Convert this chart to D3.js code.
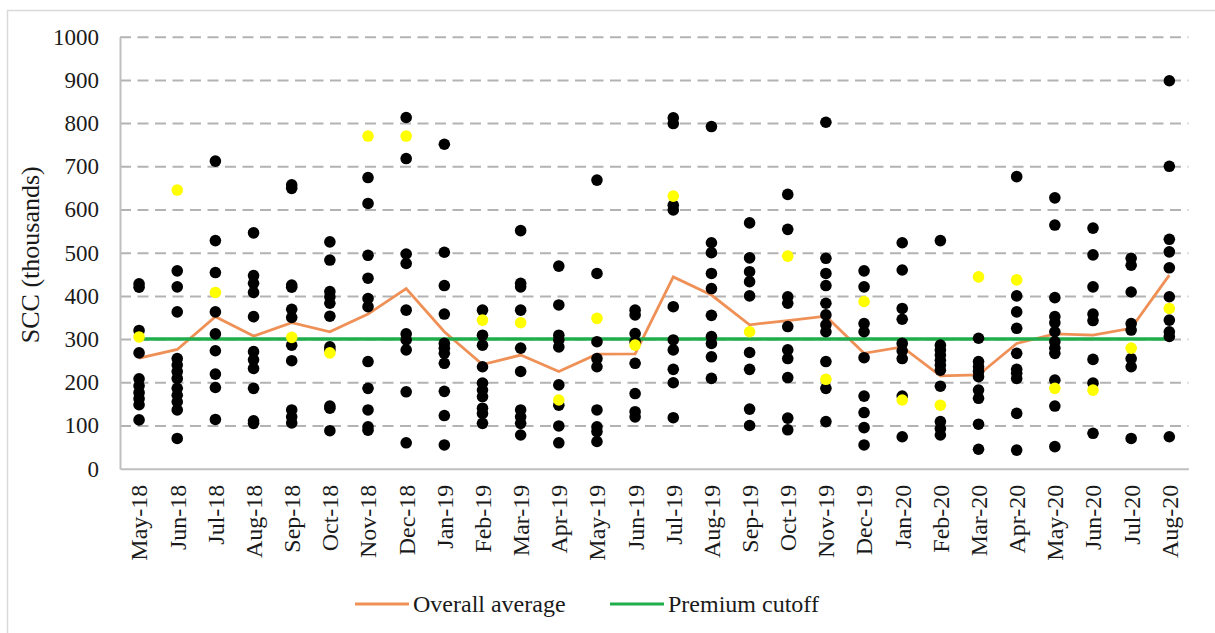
<!DOCTYPE html>
<html>
<head>
<meta charset="utf-8">
<script src="https://cdn.jsdelivr.net/npm/d3@7"></script>
<style>
  body { margin: 0; background: #fff; }
  svg { display: block; font-family: "Liberation Serif", "Times New Roman", serif; }
</style>
</head>
<body>
<div id="chart"></div>
<script>
// Months on the x axis
const months = ["May-18", "Jun-18", "Jul-18", "Aug-18", "Sep-18", "Oct-18", "Nov-18", "Dec-18",
  "Jan-19", "Feb-19", "Mar-19", "Apr-19", "May-19", "Jun-19", "Jul-19", "Aug-19", "Sep-19",
  "Oct-19", "Nov-19", "Dec-19", "Jan-20", "Feb-20", "Mar-20", "Apr-20", "May-20", "Jun-20",
  "Jul-20", "Aug-20"];

// Individual farm SCC values per month (black dots)
const farmValues = [
  [428, 420, 320, 268, 208, 192, 176, 162, 148, 113],
  [458, 421, 363, 255, 240, 225, 209, 186, 170, 155, 136, 70],
  [712, 528, 454, 363, 312, 273, 219, 188, 114],
  [546, 447, 429, 408, 352, 271, 252, 232, 186, 111, 105],
  [657, 649, 425, 420, 369, 350, 286, 250, 136, 120, 106],
  [525, 483, 410, 398, 383, 353, 282, 275, 145, 140, 88],
  [674, 614, 494, 441, 394, 375, 248, 186, 136, 97, 89],
  [813, 718, 497, 475, 367, 312, 298, 275, 178, 60],
  [751, 501, 424, 358, 290, 279, 267, 244, 179, 123, 55],
  [367, 309, 286, 236, 198, 182, 167, 140, 128, 105],
  [551, 429, 421, 367, 279, 225, 136, 120, 105, 78],
  [469, 379, 309, 298, 282, 194, 147, 99, 60],
  [668, 452, 294, 255, 236, 136, 97, 86, 63],
  [367, 356, 313, 294, 244, 174, 132, 120],
  [812, 799, 610, 599, 375, 298, 275, 230, 199, 118],
  [792, 523, 500, 452, 417, 355, 306, 290, 259, 209],
  [569, 488, 456, 433, 400, 269, 230, 138, 100],
  [635, 554, 398, 383, 329, 275, 255, 211, 117, 90],
  [802, 487, 452, 424, 383, 356, 333, 317, 248, 186, 109],
  [458, 421, 336, 317, 257, 168, 130, 95, 55],
  [523, 460, 371, 346, 290, 273, 255, 168, 74],
  [528, 286, 275, 263, 251, 240, 228, 191, 109, 93, 78],
  [302, 248, 236, 225, 213, 182, 163, 103, 45],
  [676, 400, 363, 325, 267, 230, 221, 209, 128, 43],
  [627, 564, 396, 352, 338, 317, 294, 279, 267, 205, 145, 51],
  [557, 495, 421, 358, 343, 253, 198, 82],
  [487, 471, 409, 336, 321, 255, 236, 70],
  [898, 700, 531, 502, 465, 398, 344, 317, 306, 74]
];

// Highlighted farm (yellow dots), null where hidden
const highlightValues = [305, 645, 408, null, 304, 268, 770, 770, null, 344, 338, 159, 348, 286,
  631, null, 317, 492, 207, 387, 159, 147, 444, 437, 186, 182, 279, 371];

// Overall monthly average
const averageValues = [256, 276, 352, 307, 338, 317, 358, 417, 317, 241, 263, 225, 265, 266,
  444, 402, 333, 343, 353, 267, 282, 215, 217, 290, 312, 309, 325, 448];

const premiumCutoff = 300;
const yTicks = [0, 100, 200, 300, 400, 500, 600, 700, 800, 900, 1000];

const width = 1215;
const height = 633;
const plotLeft = 120, plotRight = 1188.4, plotTop = 36.7, plotBottom = 468.7;
const textColor = "#1a1a1a";

const svg = d3.select("#chart").append("svg")
  .attr("width", width)
  .attr("height", height);

// Outer frame
svg.append("rect")
  .attr("x", 7.5).attr("y", 10.5)
  .attr("width", 1230).attr("height", 640)
  .attr("fill", "none")
  .attr("stroke", "#d9d9d9")
  .attr("stroke-width", 1.5);

const xScale = d3.scaleBand()
  .domain(months)
  .range([plotLeft, plotRight])
  .padding(0);

const yScale = d3.scaleLinear()
  .domain([0, 1000])
  .range([plotBottom, plotTop]);

const cx = m => xScale(m) + xScale.bandwidth() / 2;

// Dashed gridlines
const grid = svg.append("g")
  .attr("transform", `translate(${plotLeft},0)`)
  .call(d3.axisLeft(yScale).tickValues(yTicks.filter(d => d > 0)).tickSize(-(plotRight - plotLeft)).tickFormat(""));
grid.select(".domain").remove();
grid.selectAll("line")
  .attr("stroke", "#b3b3b3")
  .attr("stroke-width", 2)
  .attr("stroke-dasharray", "11,6.5");

// Y axis labels
const yAxis = svg.append("g")
  .attr("transform", `translate(${plotLeft},0)`)
  .call(d3.axisLeft(yScale).tickValues(yTicks).tickSize(0).tickPadding(21).tickFormat(d3.format("d")));
yAxis.select(".domain").attr("stroke", "#bfbfbf").attr("stroke-width", 2);
yAxis.selectAll("text")
  .attr("font-family", "Liberation Serif")
  .attr("font-size", 23)
  .attr("fill", textColor);

// X axis
const xAxis = svg.append("g")
  .attr("transform", `translate(0,${plotBottom})`)
  .call(d3.axisBottom(xScale).tickSize(0).tickSizeOuter(0));
xAxis.select(".domain").attr("stroke", "#bfbfbf").attr("stroke-width", 2);
xAxis.selectAll("text")
  .attr("font-family", "Liberation Serif")
  .attr("font-size", 24)
  .attr("fill", textColor)
  .attr("text-anchor", "end")
  .attr("transform", "rotate(-90)")
  .attr("x", -16)
  .attr("y", 0)
  .attr("dy", "0.35em");

// Y axis title
svg.append("text")
  .attr("transform", `translate(30,${(plotTop + plotBottom) / 2 + 2}) rotate(-90)`)
  .attr("text-anchor", "middle")
  .attr("dominant-baseline", "central")
  .attr("font-size", 26)
  .attr("fill", textColor)
  .text("SCC (thousands)");

// Average line
const line = d3.line()
  .x((d, i) => cx(months[i]))
  .y(d => yScale(d));

svg.append("path")
  .datum(averageValues)
  .attr("fill", "none")
  .attr("stroke", "#ef9057")
  .attr("stroke-width", 2.8)
  .attr("d", line);

// Premium cutoff line
svg.append("line")
  .attr("x1", cx(months[0])).attr("x2", cx(months[months.length - 1]))
  .attr("y1", yScale(premiumCutoff)).attr("y2", yScale(premiumCutoff))
  .attr("stroke", "#1fae4b")
  .attr("stroke-width", 3.5);

// Farm dots
const farmPoints = [];
farmValues.forEach((vals, i) => vals.forEach(v => farmPoints.push({ m: months[i], v: v })));

svg.append("g").selectAll("circle")
  .data(farmPoints)
  .enter()
  .append("circle")
  .attr("cx", d => cx(d.m))
  .attr("cy", d => yScale(d.v))
  .attr("r", 5.8)
  .attr("fill", "#000");

// Highlighted farm dots
svg.append("g").selectAll("circle")
  .data(highlightValues.map((v, i) => ({ m: months[i], v: v })).filter(d => d.v !== null))
  .enter()
  .append("circle")
  .attr("cx", d => cx(d.m))
  .attr("cy", d => yScale(d.v))
  .attr("r", 5.8)
  .attr("fill", "#ffff00");

// Legend
const legend = [
  { name: "Overall average", color: "#ef9057", x: 355 },
  { name: "Premium cutoff", color: "#1fae4b", x: 610 }
];
const lg = svg.append("g").selectAll("g")
  .data(legend)
  .enter()
  .append("g")
  .attr("transform", d => `translate(${d.x},604)`);
lg.append("line")
  .attr("x1", 0).attr("x2", 54)
  .attr("stroke", d => d.color)
  .attr("stroke-width", 3);
lg.append("text")
  .attr("x", 58)
  .attr("dominant-baseline", "central")
  .attr("font-size", 24)
  .attr("fill", textColor)
  .text(d => d.name);
</script>
</body>
</html>
